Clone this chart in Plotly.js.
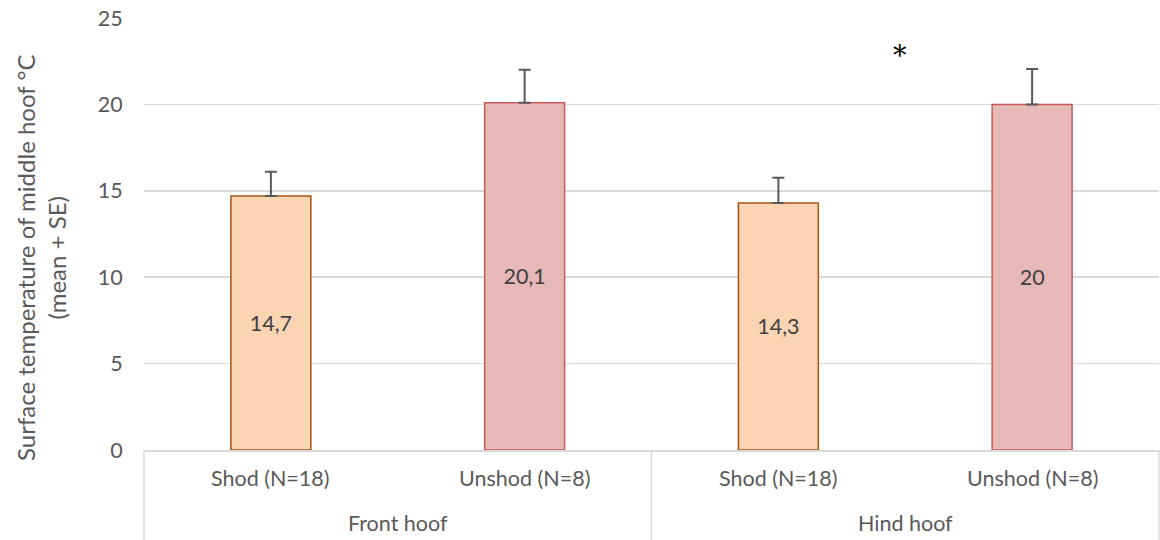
<!DOCTYPE html>
<html>
<head>
<meta charset="utf-8">
<script src="https://cdn.plot.ly/plotly-3.0.1.min.js"></script>
<style>html,body{margin:0;padding:0;background:#fff;}#chart{width:1160px;height:540px;}</style>
</head>
<body>
<div id="chart"></div>
<script>
const hoofGroups = ["Front hoof", "Front hoof", "Hind hoof", "Hind hoof"];
const conditions = ["Shod (N=18)", "Unshod (N=8)", "Shod (N=18)", "Unshod (N=8)"];
const groupNames = ["Front hoof", "Hind hoof"];
const meanTemp = [14.7, 20.1, 14.3, 20];
const seTemp = [1.4, 1.9, 1.45, 2.05];
const barLabels = ["14,7", "20,1", "14,3", "20"];
const yTicks = [0, 5, 10, 15, 20, 25];
const yTitle = "Surface temperature of middle hoof °C<br>(mean + SE)";

const fillColors = ["#FBD4B4", "#E6B8B7", "#FBD4B4", "#E6B8B7"];
const lineColors = ["#A65410", "#C9585A", "#A65410", "#C9585A"];

const FONT = "Lato, 'Open Sans', sans-serif";
const TXT = 21.5;
const M = {l: 144, r: 1, t: 18, b: 90};
const plotH = 540 - M.t - M.b;
const plotW = 1160 - M.l - M.r;

const trace = {
  type: "bar",
  x: [hoofGroups, conditions],
  y: meanTemp,
  text: barLabels,
  textposition: "inside",
  insidetextanchor: "middle",
  textangle: 0,
  constraintext: "none",
  textfont: {family: FONT, size: TXT, color: "#404040"},
  marker: {color: fillColors, line: {color: lineColors, width: 1.5}},
  error_y: {type: "data", array: seTemp, symmetric: false, arrayminus: [0,0,0,0], color: "#595959", thickness: 2, width: 6},
  hoverinfo: "none"
};

const annotations = [];
const shapes = [];
conditions.forEach((c, i) => {
  annotations.push({text: c, xref: "paper", yref: "paper", x: (i + 0.5) / conditions.length, y: -28 / plotH,
    xanchor: "center", yanchor: "middle", showarrow: false, font: {family: FONT, size: TXT, color: "#595959"}});
});
groupNames.forEach((g, i) => {
  annotations.push({text: g, xref: "paper", yref: "paper", x: (i + 0.5) / groupNames.length, y: -73 / plotH,
    xanchor: "center", yanchor: "middle", showarrow: false, font: {family: FONT, size: TXT, color: "#595959"}});
});
for (let i = 0; i <= groupNames.length; i++) {
  shapes.push({type: "line", xref: "paper", yref: "paper", x0: i / groupNames.length, x1: i / groupNames.length,
    y0: 0, y1: -M.b / plotH, line: {color: "#d9d9d9", width: 1.5}});
}
// significance marker
annotations.push({text: "*", xref: "paper", yref: "paper", x: (900 - M.l) / plotW, y: (450 - 55) / plotH,
  xanchor: "center", yanchor: "middle", showarrow: false, font: {family: "DejaVu Serif, serif", size: 27, color: "#000"}});
// y-axis title
annotations.push({text: yTitle, xref: "paper", yref: "paper", x: (41 - M.l) / plotW, y: (450 - 258) / plotH,
  xanchor: "center", yanchor: "middle", textangle: -90, showarrow: false, align: "center",
  font: {family: FONT, size: 24, color: "#595959"}});

const layout = {
  width: 1160, height: 540,
  margin: M,
  paper_bgcolor: "#fff", plot_bgcolor: "#fff",
  showlegend: false,
  bargap: 0.685,
  font: {family: FONT, color: "#595959", size: TXT},
  xaxis: {
    type: "multicategory",
    showline: true, linecolor: "#d9d9d9", linewidth: 1.5,
    showdividers: false, showticklabels: false,
    ticks: "", showgrid: false, zeroline: false
  },
  yaxis: {
    range: [0, 25], tickvals: yTicks, ticktext: yTicks.map(String),
    showgrid: true, gridcolor: "#d9d9d9", gridwidth: 1.5,
    zeroline: false, showline: false,
    ticks: "outside", ticklen: 16, tickcolor: "rgba(0,0,0,0)",
    tickfont: {family: FONT, size: TXT, color: "#595959"}
  },
  annotations: annotations,
  shapes: shapes
};

Plotly.newPlot("chart", [trace], layout, {displayModeBar: false, staticPlot: true});
</script>
</body>
</html>
